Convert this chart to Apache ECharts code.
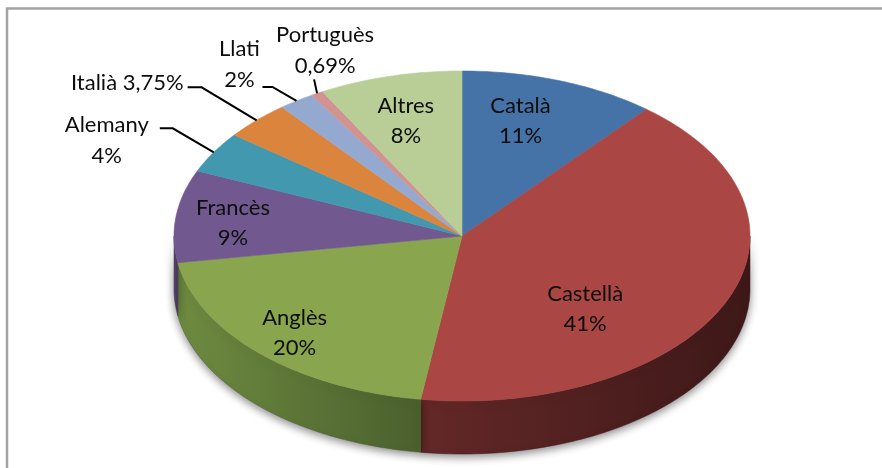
<!DOCTYPE html>
<html>
<head>
<meta charset="utf-8">
<script src="https://cdn.jsdelivr.net/npm/echarts@6/dist/echarts.min.js"></script>
<style>
html, body { margin: 0; padding: 0; background: #fff; }
#chart { width: 882px; height: 468px; }
</style>
</head>
<body>
<div id="chart"></div>
<script>
// dades
var languages = ['Català', 'Castellà', 'Anglès', 'Francès', 'Alemany', 'Italià', 'Llati', 'Portuguès', 'Altres'];
var shares = [11, 41, 20, 9, 4, 3.75, 2, 0.69, 8];

// colors de la cara superior i de la paret
var topColors = ['#4572a7', '#aa4643', '#89a54e', '#71588f', '#4198af', '#db843d', '#93a9cf', '#d19392', '#b9cd96'];
var wallColors = [
    ['#2e4c70', '#223955'], ['#642828', '#3e1818'], ['#6e8b40', '#4b602e'],
    ['#5a4672', '#46375a'], ['#2c6b7b', '#225560'], ['#9c5c28', '#7a481f'],
    ['#6a7b98', '#56647c'], ['#9a6a69', '#7c5554'], ['#8a9a6e', '#717e59']
];

// geometria del pastis
var CX = 462, CY = 236, RX = 288, RY = 165, DEPTH = 53;
var LABEL_R = 0.78;

// etiquetes interiors: desplaçament respecte al punt calculat
var labelShift = {0: [-18, 6], 1: [-82, 20], 2: [-10, 5], 3: [-6, 2], 8: [0, 10]};
// etiquetes exteriors amb línia guia (desplaçaments des de la vora de la llesca)
var leaders = {
    4: {path: [[-41, -24], [-54, -24]], text: [-107, -12], align: 'center'},
    5: {path: [[-55, -33], [-69, -33]], text: [-73, -37], align: 'right', oneLine: true},
    6: {path: [[-24, -14], [-34, -14]], text: [-57, -37], align: 'center'},
    7: {path: [[-3, -14]], text: [8, -43], align: 'center'}
};

var total = shares.reduce(function (a, b) { return a + b; }, 0);
var startAngles = [], endAngles = [];
(function () {
    var acc = 0;
    shares.forEach(function (v) {
        startAngles.push(acc / total * Math.PI * 2);
        acc += v;
        endAngles.push(acc / total * Math.PI * 2);
    });
})();

function pt(theta, r, dy) {
    return [CX + RX * r * Math.sin(theta), CY - RY * r * Math.cos(theta) + (dy || 0)];
}

function arc(a, b, dy) {
    var n = Math.max(2, Math.ceil((b - a) / (Math.PI / 180)));
    var pts = [];
    for (var i = 0; i <= n; i++) {
        pts.push(pt(a + (b - a) * i / n, 1, dy));
    }
    return pts;
}

function fmt(v) {
    return String(v).replace('.', ',') + '%';
}

function renderWall(params, api) {
    var i = params.dataIndex;
    var a = Math.max(startAngles[i], Math.PI / 2);
    var b = Math.min(endAngles[i], Math.PI * 1.5);
    if (a >= b) return null;
    var upper = arc(a, b, 0);
    var lower = arc(a, b, DEPTH).reverse();
    var pts = upper.concat(lower);
    var xs = pts.map(function (p) { return p[0]; });
    var x0 = Math.min.apply(null, xs), x1 = Math.max.apply(null, xs);
    return {
        type: 'polygon',
        shape: {points: pts},
        style: {
            fill: {
                type: 'linear', x: x0, y: 0, x2: x1, y2: 0, global: true,
                colorStops: [{offset: 0, color: wallColors[i][0]}, {offset: 1, color: wallColors[i][1]}]
            },
            stroke: wallColors[i][1],
            lineWidth: 0.5,
            shadowBlur: 8,
            shadowOffsetY: 3,
            shadowColor: 'rgba(0,0,0,0.45)'
        }
    };
}

function renderTop(params, api) {
    var i = params.dataIndex;
    var pts = [[CX, CY]].concat(arc(startAngles[i], endAngles[i], 0));
    return {
        type: 'polygon',
        shape: {points: pts},
        style: {fill: topColors[i], stroke: topColors[i], lineWidth: 0.6}
    };
}

var FONT = '22px Lato';

function renderLabel(params, api) {
    var i = params.dataIndex;
    var mid = (startAngles[i] + endAngles[i]) / 2;
    var name = languages[i];
    var val = fmt(api.value(0));
    if (leaders[i]) {
        var L = leaders[i];
        var edge = pt(mid, 1);
        var line = [edge].concat(L.path.map(function (d) { return [edge[0] + d[0], edge[1] + d[1]]; }));
        return {
            type: 'group',
            children: [
                {type: 'polyline', shape: {points: line}, style: {stroke: '#000', lineWidth: 2, fill: null}},
                {
                    type: 'text',
                    style: {
                        text: L.oneLine ? name + ' ' + val : name + '\n' + val,
                        x: edge[0] + L.text[0], y: edge[1] + L.text[1],
                        align: L.align, verticalAlign: 'middle',
                        font: FONT, lineHeight: 31, fill: '#0d0d0d'
                    }
                }
            ]
        };
    }
    var p = pt(mid, LABEL_R);
    var s = labelShift[i] || [0, 0];
    return {
        type: 'text',
        style: {
            text: name + '\n' + val,
            x: p[0] + s[0], y: p[1] + s[1],
            align: 'center', verticalAlign: 'middle',
            font: FONT, lineHeight: 30, fill: '#0d0d0d'
        }
    };
}

var seriesData = shares.map(function (v, i) { return {name: languages[i], value: [v]}; });

var chart = echarts.init(document.getElementById('chart'), null, {renderer: 'canvas'});
chart.setOption({
    backgroundColor: '#ffffff',
    animation: false,
    graphic: [
        {
            type: 'polyline', z: 0,
            shape: {points: [[7, 468], [7, 8.5], [882, 8.5]]},
            style: {stroke: '#a3a3a3', lineWidth: 2.5, fill: null}
        }
    ],
    series: [
        {type: 'custom', coordinateSystem: 'none', silent: true, z: 1, data: seriesData, renderItem: renderWall},
        {type: 'custom', coordinateSystem: 'none', z: 2, data: seriesData, renderItem: renderTop},
        {type: 'custom', coordinateSystem: 'none', silent: true, z: 3, data: seriesData, renderItem: renderLabel}
    ]
});
</script>
</body>
</html>
